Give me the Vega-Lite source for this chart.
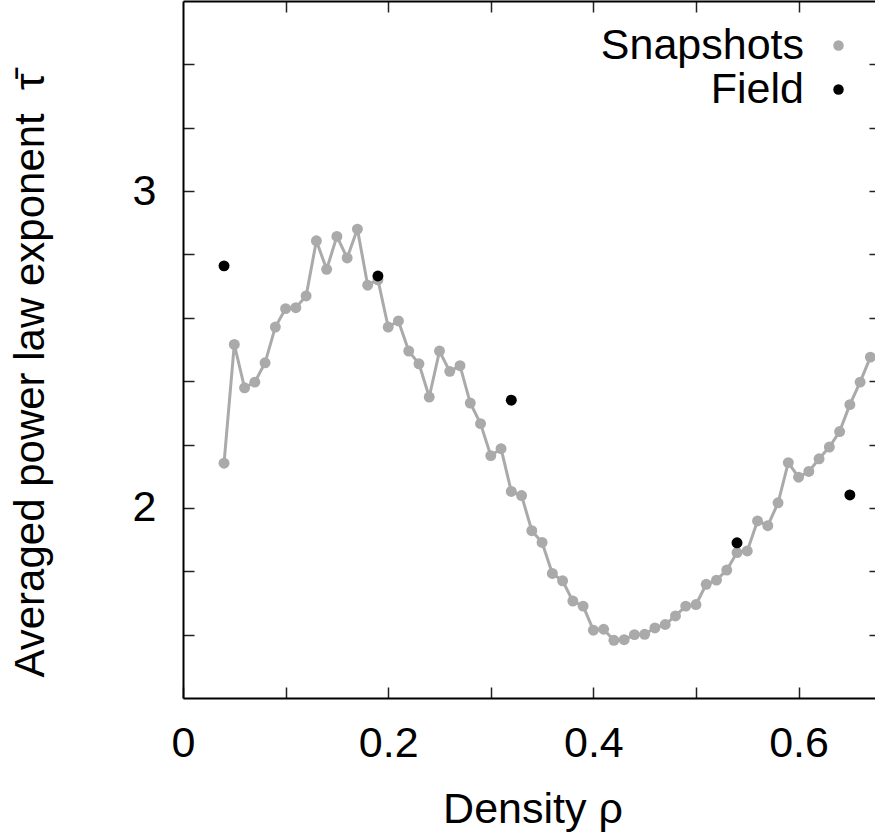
{
  "$schema": "https://vega.github.io/schema/vega-lite/v6.json",
  "width": 692,
  "height": 697,
  "autosize": {"type": "none"},
  "padding": {"left": 183, "top": 1, "right": 0, "bottom": 134},
  "background": "white",
  "config": {
    "view": {"stroke": null},
    "font": "Liberation Sans",
    "axis": {
      "domainColor": "black",
      "domainWidth": 2,
      "tickColor": "#222222",
      "tickWidth": 1.5,
      "tickSize": -11,
      "labelFont": "Liberation Sans",
      "labelFontSize": 43,
      "labelColor": "black",
      "titleFont": "Liberation Sans",
      "titleFontSize": 43,
      "titleFontWeight": "normal",
      "titleColor": "black",
      "grid": false,
      "labelFlush": false,
      "labelOverlap": false
    }
  },
  "data": {
    "values": [
      {"rho": 0.04, "tau": 2.141, "series": "Snapshots"},
      {"rho": 0.05, "tau": 2.516, "series": "Snapshots"},
      {"rho": 0.06, "tau": 2.379, "series": "Snapshots"},
      {"rho": 0.07, "tau": 2.397, "series": "Snapshots"},
      {"rho": 0.08, "tau": 2.458, "series": "Snapshots"},
      {"rho": 0.09, "tau": 2.571, "series": "Snapshots"},
      {"rho": 0.10, "tau": 2.629, "series": "Snapshots"},
      {"rho": 0.11, "tau": 2.632, "series": "Snapshots"},
      {"rho": 0.12, "tau": 2.669, "series": "Snapshots"},
      {"rho": 0.13, "tau": 2.843, "series": "Snapshots"},
      {"rho": 0.14, "tau": 2.753, "series": "Snapshots"},
      {"rho": 0.15, "tau": 2.857, "series": "Snapshots"},
      {"rho": 0.16, "tau": 2.789, "series": "Snapshots"},
      {"rho": 0.17, "tau": 2.880, "series": "Snapshots"},
      {"rho": 0.18, "tau": 2.703, "series": "Snapshots"},
      {"rho": 0.19, "tau": 2.720, "series": "Snapshots"},
      {"rho": 0.20, "tau": 2.571, "series": "Snapshots"},
      {"rho": 0.21, "tau": 2.590, "series": "Snapshots"},
      {"rho": 0.22, "tau": 2.495, "series": "Snapshots"},
      {"rho": 0.23, "tau": 2.455, "series": "Snapshots"},
      {"rho": 0.24, "tau": 2.350, "series": "Snapshots"},
      {"rho": 0.25, "tau": 2.495, "series": "Snapshots"},
      {"rho": 0.26, "tau": 2.431, "series": "Snapshots"},
      {"rho": 0.27, "tau": 2.449, "series": "Snapshots"},
      {"rho": 0.28, "tau": 2.331, "series": "Snapshots"},
      {"rho": 0.29, "tau": 2.266, "series": "Snapshots"},
      {"rho": 0.30, "tau": 2.165, "series": "Snapshots"},
      {"rho": 0.31, "tau": 2.187, "series": "Snapshots"},
      {"rho": 0.32, "tau": 2.052, "series": "Snapshots"},
      {"rho": 0.33, "tau": 2.039, "series": "Snapshots"},
      {"rho": 0.34, "tau": 1.928, "series": "Snapshots"},
      {"rho": 0.35, "tau": 1.891, "series": "Snapshots"},
      {"rho": 0.36, "tau": 1.793, "series": "Snapshots"},
      {"rho": 0.37, "tau": 1.770, "series": "Snapshots"},
      {"rho": 0.38, "tau": 1.706, "series": "Snapshots"},
      {"rho": 0.39, "tau": 1.690, "series": "Snapshots"},
      {"rho": 0.40, "tau": 1.614, "series": "Snapshots"},
      {"rho": 0.41, "tau": 1.617, "series": "Snapshots"},
      {"rho": 0.42, "tau": 1.582, "series": "Snapshots"},
      {"rho": 0.43, "tau": 1.584, "series": "Snapshots"},
      {"rho": 0.44, "tau": 1.600, "series": "Snapshots"},
      {"rho": 0.45, "tau": 1.601, "series": "Snapshots"},
      {"rho": 0.46, "tau": 1.621, "series": "Snapshots"},
      {"rho": 0.47, "tau": 1.632, "series": "Snapshots"},
      {"rho": 0.48, "tau": 1.659, "series": "Snapshots"},
      {"rho": 0.49, "tau": 1.690, "series": "Snapshots"},
      {"rho": 0.50, "tau": 1.695, "series": "Snapshots"},
      {"rho": 0.51, "tau": 1.759, "series": "Snapshots"},
      {"rho": 0.52, "tau": 1.772, "series": "Snapshots"},
      {"rho": 0.53, "tau": 1.804, "series": "Snapshots"},
      {"rho": 0.54, "tau": 1.859, "series": "Snapshots"},
      {"rho": 0.55, "tau": 1.864, "series": "Snapshots"},
      {"rho": 0.56, "tau": 1.959, "series": "Snapshots"},
      {"rho": 0.57, "tau": 1.944, "series": "Snapshots"},
      {"rho": 0.58, "tau": 2.016, "series": "Snapshots"},
      {"rho": 0.59, "tau": 2.143, "series": "Snapshots"},
      {"rho": 0.60, "tau": 2.097, "series": "Snapshots"},
      {"rho": 0.61, "tau": 2.115, "series": "Snapshots"},
      {"rho": 0.62, "tau": 2.155, "series": "Snapshots"},
      {"rho": 0.63, "tau": 2.192, "series": "Snapshots"},
      {"rho": 0.64, "tau": 2.241, "series": "Snapshots"},
      {"rho": 0.65, "tau": 2.326, "series": "Snapshots"},
      {"rho": 0.66, "tau": 2.397, "series": "Snapshots"},
      {"rho": 0.67, "tau": 2.476, "series": "Snapshots"},
      {"rho": 0.04, "tau": 2.764, "series": "Field"},
      {"rho": 0.19, "tau": 2.732, "series": "Field"},
      {"rho": 0.32, "tau": 2.340, "series": "Field"},
      {"rho": 0.54, "tau": 1.890, "series": "Field"},
      {"rho": 0.65, "tau": 2.041, "series": "Field"}
    ]
  },
  "layer": [
    {
      "transform": [{"filter": "datum.series === 'Snapshots'"}],
      "mark": {"type": "line", "color": "#aaaaaa", "strokeWidth": 3},
      "encoding": {
        "x": {
          "field": "rho", "type": "quantitative",
          "scale": {"domain": [0, 0.6745], "nice": false, "zero": false},
          "axis": {
            "orient": "bottom",
            "values": [0, 0.1, 0.2, 0.3, 0.4, 0.5, 0.6],
            "labelExpr": "abs(datum.value*5 - round(datum.value*5)) < 0.001 ? format(datum.value, '.1~f') : ''",
            "labelPadding": 35,
            "title": "Density ρ",
            "titleX": 349.5,
            "titleY": 124,
            "titleBaseline": "alphabetic",
            "titleAlign": "center"
          }
        },
        "y": {
          "field": "tau", "type": "quantitative",
          "scale": {"domain": [1.4, 3.6], "nice": false, "zero": false},
          "axis": {
            "orient": "left",
            "values": [1.6, 1.8, 2, 2.2, 2.4, 2.6, 2.8, 3, 3.2, 3.4],
            "labelExpr": "abs(datum.value - round(datum.value)) < 0.001 ? '' + round(datum.value) : ''",
            "labelPadding": 38,
            "title": "Averaged power law exponent \u00a0τ̄",
            "titleFontSize": 42,
            "titleX": -140,
            "titleY": 676,
            "titleAngle": -90,
            "titleBaseline": "alphabetic",
            "titleAlign": "left"
          }
        }
      }
    },
    {
      "transform": [{"filter": "datum.series === 'Snapshots'"}],
      "mark": {"type": "point", "filled": true, "size": 120, "opacity": 1},
      "encoding": {
        "x": {"field": "rho", "type": "quantitative", "axis": null},
        "y": {"field": "tau", "type": "quantitative", "axis": null},
        "color": {
          "field": "series", "type": "nominal",
          "scale": {"domain": ["Snapshots", "Field"], "range": ["#aaaaaa", "#000000"]},
          "legend": {
            "orient": "none",
            "legendX": 634,
            "legendY": 23,
            "title": null,
            "labelFont": "Liberation Sans",
            "labelFontSize": 43,
            "labelColor": "black",
            "labelAlign": "right",
            "labelOffset": -56,
            "labelLimit": 0,
            "symbolType": "circle",
            "symbolSize": 110,
            "symbolStrokeWidth": 0,
            "rowPadding": -7,
            "padding": 0
          }
        }
      }
    },
    {
      "transform": [{"filter": "datum.series === 'Field'"}],
      "mark": {"type": "point", "filled": true, "size": 120, "opacity": 1},
      "encoding": {
        "x": {
          "field": "rho", "type": "quantitative",
          "axis": {"orient": "top", "values": [0.1, 0.2, 0.3, 0.4, 0.5, 0.6], "labels": false, "title": null}
        },
        "y": {
          "field": "tau", "type": "quantitative",
          "axis": {"orient": "right", "values": [1.6, 1.8, 2, 2.2, 2.4, 2.6, 2.8, 3, 3.2, 3.4], "labels": false, "title": null, "domain": false, "tickSize": -6}
        },
        "color": {"field": "series", "type": "nominal"}
      }
    }
  ],
  "resolve": {"axis": {"x": "independent", "y": "independent"}}
}
